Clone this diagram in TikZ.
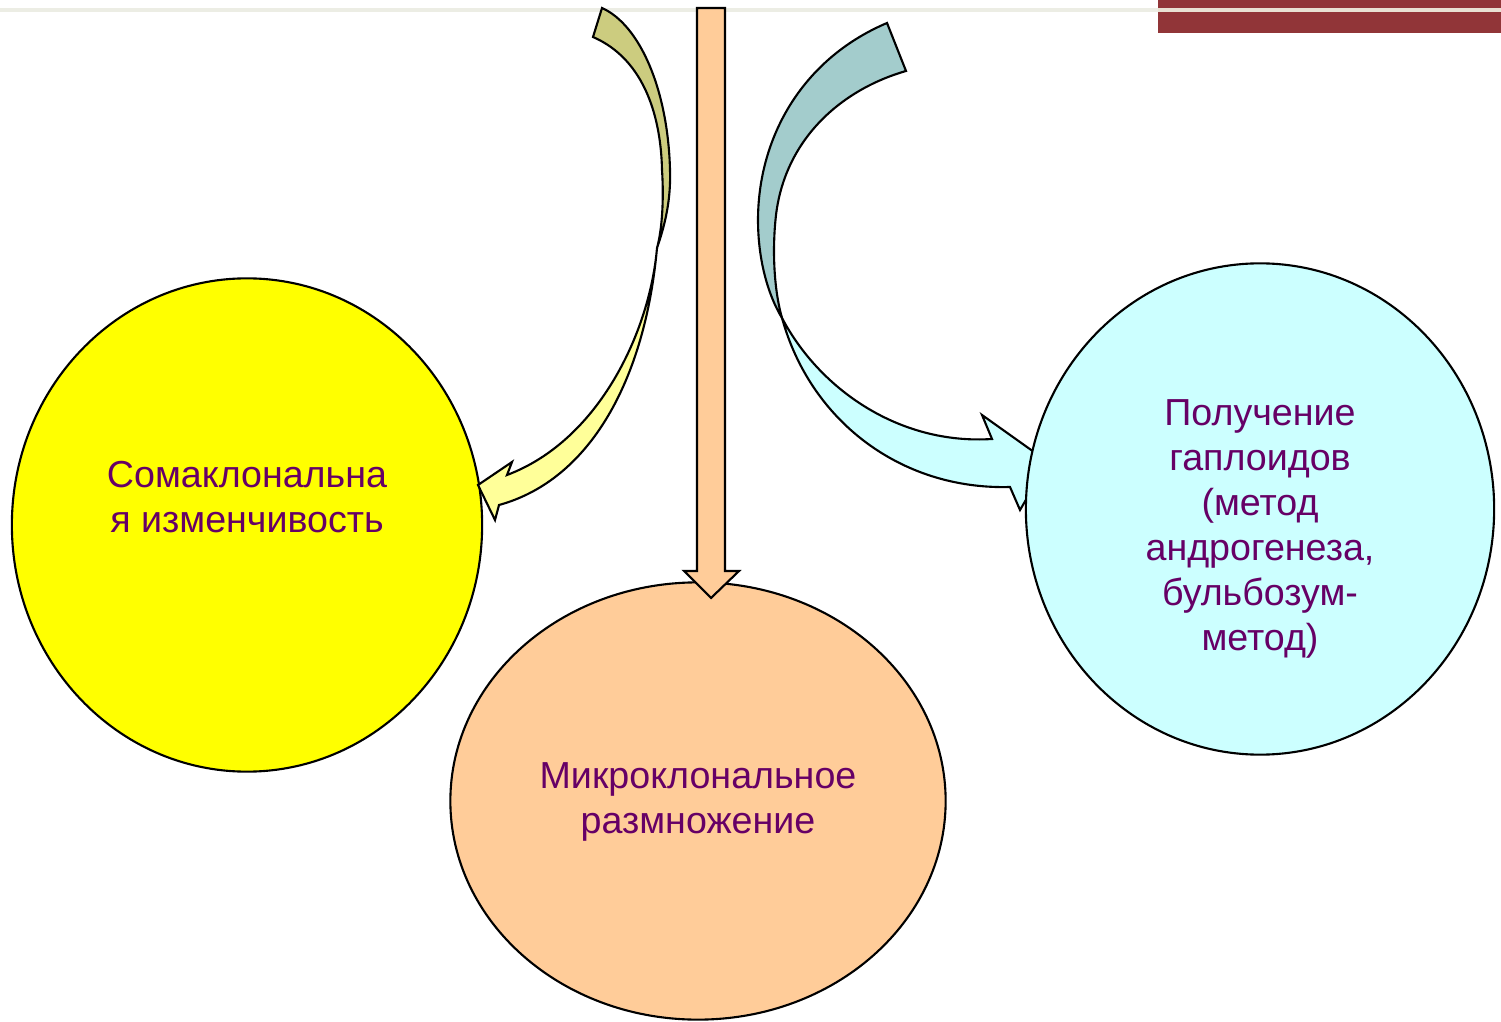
\documentclass[tikz,border=0pt]{standalone}
\usepackage{fontspec}
\setmainfont{Liberation Sans}
\usepackage{xcolor}
\usepackage{tikz}
\usetikzlibrary{shapes.geometric, calc}

\definecolor{textpurple}{HTML}{660066}
\definecolor{headred}{HTML}{913538}
\definecolor{headline}{HTML}{ECEDE4}
\definecolor{headcream}{HTML}{E9E1D3}
\definecolor{somayellow}{HTML}{FFFF00}
\definecolor{microorange}{HTML}{FFCC99}
\definecolor{haplocyan}{HTML}{CCFFFF}
\definecolor{oliveback}{HTML}{CCCC7F}
\definecolor{lightyellow}{HTML}{FFFF99}
\definecolor{tealback}{HTML}{A3CCCC}

\tikzset{
  bubble/.style={ellipse, draw, line width=0.6pt, inner sep=0pt},
  bubbletext/.style={text=textpurple, align=center, font=\fontsize{10.7pt}{12.8pt}\selectfont},
  blockarrow/.style={draw, line width=0.6pt, line join=miter},
}

\begin{document}
\begin{tikzpicture}[x=0.01cm, y=-0.01cm]
    \useasboundingbox (0,0) rectangle (1501,1022);

    % header strip
    \fill[headred] (1158,0) rectangle (1501,33);
    \fill[headline] (0,8) rectangle (1158,12);
    \fill[headcream] (1158,8) rectangle (1501,12);

    % bubbles
    \node[bubble, fill=somayellow, minimum width=4.70cm, minimum height=4.93cm] (soma) at (247,525) {};
    \node[bubble, fill=microorange, minimum width=4.95cm, minimum height=4.37cm] (micro) at (698,801) {};

    % straight arrow down
    \coordinate (mtop) at (711,8);
    \coordinate (mtip) at (711,598);
    \draw[blockarrow, fill=microorange] ($(mtop)+(-14,0)$) -- ($(mtop)+(14,0)$) -- ($(mtip)+(14,-27)$)
        -- ($(mtip)+(28,-27)$) -- (mtip) -- ($(mtip)+(-27,-27)$) -- ($(mtip)+(-14,-27)$) -- cycle;

    % left curved arrow
    \coordinate (la) at (602,8);
    \coordinate (lb) at (593,37);
    \coordinate (lx) at (657,248);
    \coordinate (ltip) at (478,485);
    \draw[blockarrow, fill=oliveback] (la) .. controls (640,25) and (668,90) .. (670,170)
        .. controls (671,200) and (665,225) .. (lx)
        .. controls (662,230) and (664,200) .. (662,170)
        .. controls (661,120) and (646,60) .. (lb) -- cycle;
    \draw[blockarrow, fill=lightyellow] (lx) .. controls (650,330) and (600,440) .. (507,475)
        -- (512,462) -- (ltip) -- (495,520) -- (499,505)
        .. controls (590,480) and (645,380) .. (lx) -- cycle;

    % right curved arrow
    \coordinate (rc) at (887,23);
    \coordinate (rd) at (906,71);
    \coordinate (rx) at (782,318);
    \coordinate (rtip) at (1048,462);
    \draw[blockarrow, fill=tealback] (rc) .. controls (800,60) and (758,140) .. (758,220)
        .. controls (758,260) and (768,295) .. (rx)
        .. controls (774,290) and (772,250) .. (776,215)
        .. controls (785,140) and (840,90) .. (rd) -- cycle;
    \draw[blockarrow, fill=haplocyan] (rx) .. controls (820,390) and (900,445) .. (992,439)
        -- (982,415) -- (rtip) -- (1020,510) -- (1010,487)
        .. controls (900,490) and (810,420) .. (rx) -- cycle;

    \node[bubble, fill=haplocyan, minimum width=4.68cm, minimum height=4.91cm] (haplo) at (1260,509) {};

    % labels
    \node[bubbletext] (somatext) at (247,497) {Сомаклональна\\я изменчивость};
    \node[bubbletext] (microtext) at (698,802) {Микроклональное\\размножение};
    \node[bubbletext] (haplotext) at (1260,529) {Получение\\гаплоидов\\(метод\\андрогенеза,\\бульбозум-\\метод)};
\end{tikzpicture}
\end{document}
